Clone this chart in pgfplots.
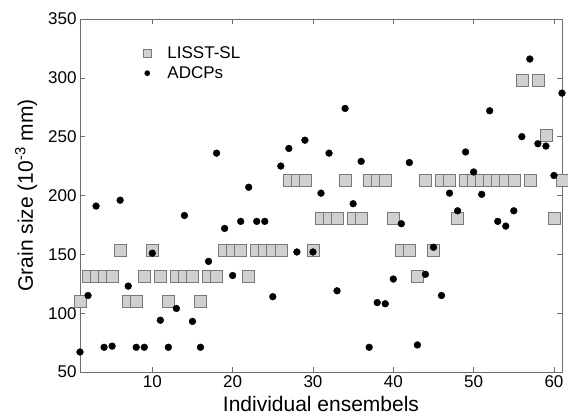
\documentclass[border=0pt]{standalone}
\usepackage{pgfplots}
\pgfplotsset{compat=1.18}
\usepackage{pgfplotstable}
\usepackage{fontspec}
\setmainfont{Liberation Sans}
\usetikzlibrary{calc}

\definecolor{sqfill}{RGB}{208,208,208}
\definecolor{sqdraw}{RGB}{120,120,120}
\definecolor{axgray}{RGB}{110,110,110}

% ensemble, LISST-SL, ADCPs
\pgfplotstableread{
x lisst adcp
1 110 67
2 131 115
3 131 191
4 131 71
5 131 72
6 153 196
7 110 123
8 110 71
9 131 71
10 153 151
11 131 94
12 110 71
13 131 104
14 131 183
15 131 93
16 110 71
17 131 144
18 131 236
19 153 172
20 153 132
21 153 178
22 131 207
23 153 178
24 153 178
25 153 114
26 153 225
27 213 240
28 213 152
29 213 247
30 153 152
31 181 202
32 181 236
33 181 119
34 213 274
35 181 193
36 181 229
37 213 71
38 213 109
39 213 108
40 181 129
41 153 176
42 153 228
43 131 73
44 213 133
45 153 156
46 213 115
47 213 202
48 181 187
49 213 237
50 213 220
51 213 201
52 213 272
53 213 178
54 213 174
55 213 187
56 298 250
57 213 316
58 298 244
59 251 242
60 181 217
61 213 287
}\grain

\begin{document}
\begin{tikzpicture}
\begin{axis}[
    scale only axis,
    width=482pt,
    height=353pt,
    xmin=1, xmax=61,
    ymin=50, ymax=350,
    xtick={10,20,30,40,50,60},
    ytick={50,100,...,350},
    tick align=inside,
    major tick length=5pt,
    axis line style={axgray, line width=0.6pt},
    every tick/.style={axgray, line width=0.6pt},
    tick label style={font=\fontsize{17}{20}\selectfont, black},
    /pgf/number format/assume math mode=true,
    xlabel={Individual ensembels},
    ylabel={Grain size (10\textsuperscript{-3} mm)},
    label style={font=\fontsize{21}{25}\selectfont},
    xlabel style={yshift=-2pt},
    ylabel style={yshift=4pt},
    legend style={at={(0.118,0.935)}, anchor=north west, draw=none, fill=none,
        font=\fontsize{17}{20}\selectfont, row sep=3pt},
    legend cell align=left,
    clip=false,
]
\addplot[only marks, mark=square*, mark size=6pt,
    mark options={fill=sqfill, draw=sqdraw, line width=0.6pt},
    legend image code/.code={
        \path (0pt,0pt) (25pt,0pt);
        \draw[fill=sqfill, draw=sqdraw, line width=0.5pt]
        (3pt,-4pt) rectangle ++(8pt,8pt);}]
    table[x=x, y=lisst] {\grain};
\addlegendentry{LISST-SL}
\addplot[only marks, mark=*, mark size=3.4pt, black,
    legend image code/.code={
        \path (0pt,0pt) (25pt,0pt);
        \fill[black] (7pt,0pt) circle (2.6pt);}]
    table[x=x, y=adcp] {\grain};
\addlegendentry{ADCPs}
\end{axis}
\pgfresetboundingbox
\path[use as bounding box] ($(current axis.south west)+(-80pt,-45pt)$)
    rectangle ($(current axis.north east)+(6pt,19pt)$);
\end{tikzpicture}
\end{document}
